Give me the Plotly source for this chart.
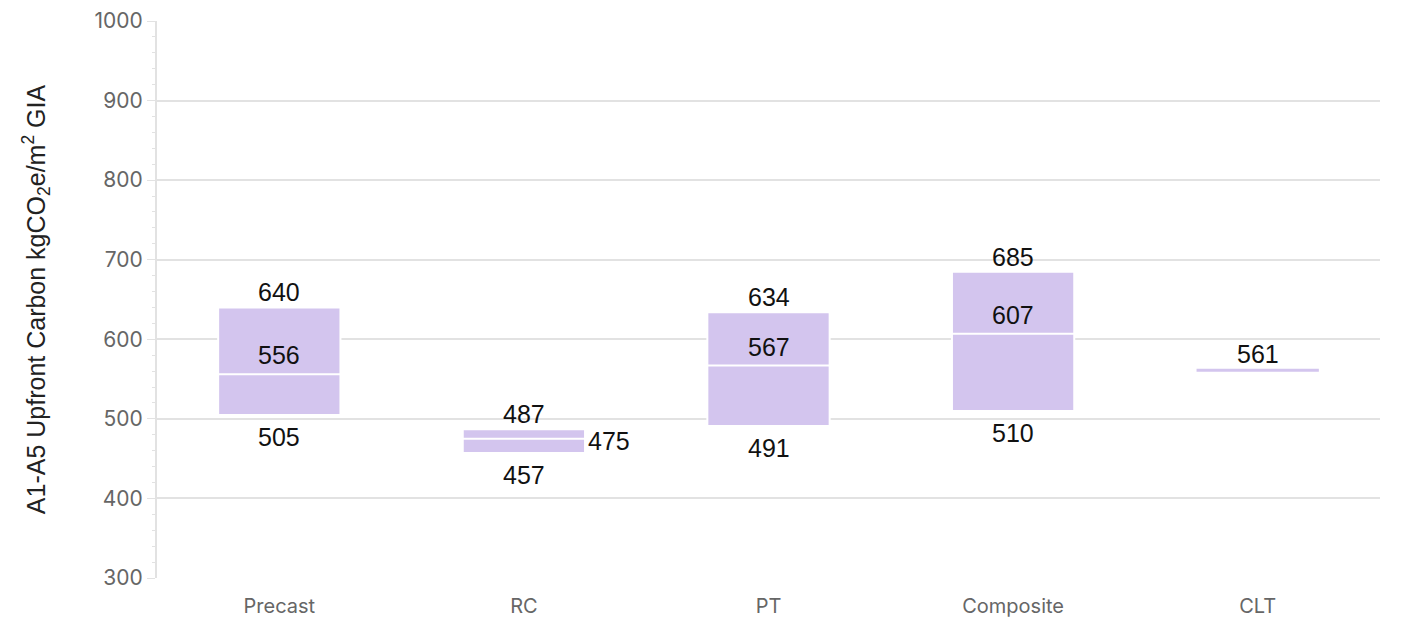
import plotly.graph_objects as go

categories = ["Precast", "RC", "PT", "Composite", "CLT"]
low_vals = [505, 457, 491, 510, 561]
mid_vals = [556, 475, 567, 607, 561]
high_vals = [640, 487, 634, 685, 561]
mid_label_pos = ["above", "right", "above", "above", "none"]

FILL = "#d3c5ee"
LABEL_FONT = dict(family="Liberation Sans, Arial, sans-serif", size=25, color="#111111")

fig = go.Figure()

# Boxes for categories with a range
box_cats = [c for c, lo, hi in zip(categories, low_vals, high_vals) if hi > lo]
idx = [categories.index(c) for c in box_cats]
fig.add_trace(go.Box(
    x=box_cats,
    q1=[low_vals[i] for i in idx],
    median=[mid_vals[i] for i in idx],
    q3=[high_vals[i] for i in idx],
    lowerfence=[low_vals[i] for i in idx],
    upperfence=[high_vals[i] for i in idx],
    fillcolor=FILL,
    line=dict(color="white", width=2),
    width=0.5,
    hoverinfo="skip",
    showlegend=False,
))

# Single-value categories drawn as a flat line
flat_cats = [c for c, lo, hi in zip(categories, low_vals, high_vals) if hi == lo]
fidx = [categories.index(c) for c in flat_cats]
fig.add_trace(go.Box(
    x=flat_cats,
    q1=[low_vals[i] for i in fidx],
    median=[mid_vals[i] for i in fidx],
    q3=[high_vals[i] for i in fidx],
    lowerfence=[low_vals[i] for i in fidx],
    upperfence=[high_vals[i] for i in fidx],
    fillcolor=FILL,
    line=dict(color=FILL, width=3),
    width=0.5,
    hoverinfo="skip",
    showlegend=False,
))

# Labels
for c, lo, mid, hi, pos in zip(categories, low_vals, mid_vals, high_vals, mid_label_pos):
    if hi > lo:
        fig.add_annotation(x=c, y=hi, text=str(hi), showarrow=False, yanchor="bottom",
                           yshift=-1, font=LABEL_FONT)
        fig.add_annotation(x=c, y=lo, text=str(lo), showarrow=False, yanchor="top",
                           yshift=-6, font=LABEL_FONT)
        if pos == "above":
            fig.add_annotation(x=c, y=mid, text=str(mid), showarrow=False, yanchor="bottom",
                               yshift=3, font=LABEL_FONT)
        elif pos == "right":
            fig.add_annotation(x=c, y=mid, text=str(mid), showarrow=False, xanchor="left",
                               xshift=62, yshift=-2, font=LABEL_FONT)
    else:
        fig.add_annotation(x=c, y=hi, text=str(hi), showarrow=False, yanchor="bottom",
                           yshift=0, font=LABEL_FONT)

fig.update_layout(
    width=1405, height=614,
    margin=dict(l=149, r=33, t=13, b=44),
    paper_bgcolor="white", plot_bgcolor="white",
    font=dict(family="Inter, Liberation Sans, sans-serif"),
    xaxis=dict(
        categoryorder="array", categoryarray=categories,
        showgrid=False, showline=False, ticks="",
        tickfont=dict(size=20, color="#666666", family="Inter, sans-serif"),
        ticklabelstandoff=14,
        range=[-0.5, 4.5], automargin=False,
    ),
    yaxis=dict(
        range=[300, 1000], dtick=100, tick0=300,
        showgrid=True, gridcolor="#e2e2e2", gridwidth=2,
        showline=True, linecolor="#e2e2e2", linewidth=2,
        ticks="outside", ticklen=8, tickcolor="#e2e2e2", tickwidth=1,
        tickfont=dict(size=21, color="#666666", family="Inter, sans-serif"),
        zeroline=False, automargin=False,
        minor=dict(dtick=20, ticks="outside", ticklen=3, tickcolor="#e2e2e2", showgrid=False),
        title=dict(text="A1-A5 Upfront Carbon kgCO<sub>2</sub>e/m<sup>2</sup> GIA",
                   font=dict(size=25, color="#222222", family="Liberation Sans, Arial, sans-serif"),
                   standoff=42),
    ),
)

fig.write_html("out.html")
